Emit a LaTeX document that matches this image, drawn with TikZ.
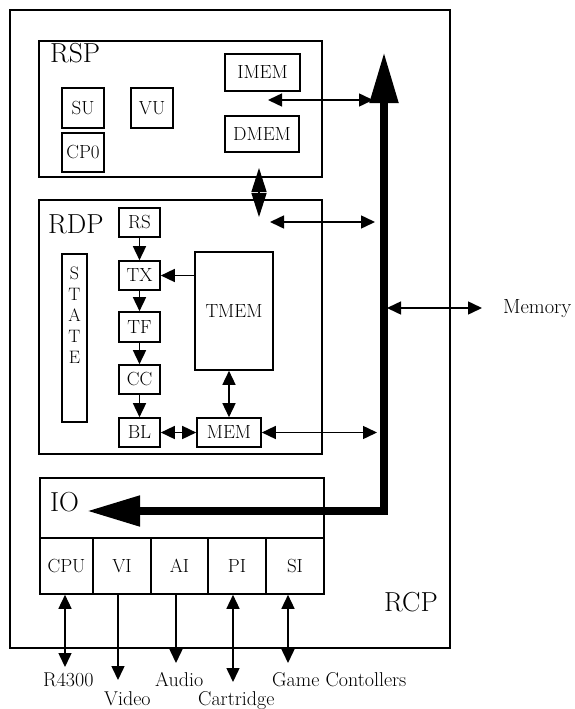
\documentclass[tikz,border=0pt]{standalone}
\usetikzlibrary{arrows.meta}
\tikzset{
  bx/.style={draw, line width=1.6pt, inner sep=0pt, font=\fontsize{19}{22}\selectfont},
  big/.style={font=\fontsize{27.5}{30}\selectfont, inner sep=0pt, anchor=base west},
  lab/.style={font=\fontsize{20}{23}\selectfont, inner sep=0pt, anchor=base west},
  con/.style={line width=1.5pt, -{Triangle[length=14pt,width=13pt]}},
  dcon/.style={line width=1.5pt, {Triangle[length=14pt,width=13pt]}-{Triangle[length=14pt,width=13pt]}},
  busline/.style={line width=8pt, line join=miter, {Triangle[length=53pt,width=29pt]}-{Triangle[length=51pt,width=27pt]}}
}
\begin{document}
\begin{tikzpicture}[x=1pt,y=-1pt]
\path[fill=white, use as bounding box] (0,0) rectangle (574,709);

% outer RCP
\node[draw, line width=1.4pt, minimum width=440pt, minimum height=638pt, inner sep=0pt] (rcp) at (230,329) {};
\node[big] (rcplbl) at (384,611) {RCP};

% RSP
\node[bx, minimum width=283pt, minimum height=136pt] (rsp) at (180.5,109) {};
\node[big] (rsplbl) at (50,63) {RSP};
\node[bx, minimum width=75pt, minimum height=37pt] (imem) at (262.5,72.5) {IMEM};
\node[bx, minimum width=74pt, minimum height=36pt] (dmem) at (262,134) {DMEM};
\node[bx, minimum width=42pt, minimum height=40pt] (su) at (83,108) {SU};
\node[bx, minimum width=42pt, minimum height=40pt] (vu) at (152,108) {VU};
\node[bx, minimum width=42pt, minimum height=39pt] (cpz) at (83,152.5) {CP0};

% RDP
\node[bx, minimum width=283pt, minimum height=254pt] (rdp) at (180.5,327) {};
\node[big] (rdplbl) at (48,233) {RDP};
\node[bx, minimum width=41pt, minimum height=29pt] (rs) at (139.5,222.5) {RS};
\node[bx, minimum width=41pt, minimum height=29pt] (tx) at (139.5,275.5) {TX};
\node[bx, minimum width=41pt, minimum height=30pt] (tf) at (139.5,327) {TF};
\node[bx, minimum width=41pt, minimum height=29pt] (cc) at (139.5,379.5) {CC};
\node[bx, minimum width=41pt, minimum height=29pt] (bl) at (139.5,432.5) {BL};
\node[bx, minimum width=64pt, minimum height=29pt] (mem) at (229,432.5) {MEM};
\node[bx, minimum width=78pt, minimum height=118pt] (tmem) at (234,311) {TMEM};
\node[bx, minimum width=25pt, minimum height=168pt] (state) at (74.5,338) {};
\node[font=\fontsize{18}{21}\selectfont, align=center, inner sep=0pt] (statetxt) at (74.5,315) {S\\T\\A\\T\\E};

% IO
\node[bx, minimum width=284pt, minimum height=116pt] (io) at (182,536) {};
\node[big] (iolbl) at (50,511) {IO};
\node[bx, minimum width=53pt, minimum height=56pt] (cpu) at (66.5,566) {CPU};
\node[bx, minimum width=58pt, minimum height=56pt] (vi) at (122,566) {VI};
\node[bx, minimum width=57pt, minimum height=56pt] (ai) at (179.5,566) {AI};
\node[bx, minimum width=58pt, minimum height=56pt] (pi) at (237,566) {PI};
\node[bx, minimum width=58pt, minimum height=56pt] (si) at (295,566) {SI};

% outside labels
\node[font=\fontsize{20.5}{23}\selectfont, inner sep=0pt, anchor=base west] (memory) at (503,313) {Memory};
\node[lab] (r4300) at (43,686) {R4300};
\node[lab] (video) at (104,705) {Video};
\node[lab] (audio) at (155,686) {Audio};
\node[lab] (cart) at (198,705) {Cartridge};
\node[lab] (game) at (272,686) {Game Contollers};

% bus
\coordinate (busTop) at (384,52);
\coordinate (busCorner) at (384,511);
\coordinate (busEnd) at (87,511);
\draw[busline] (busEnd) -- (busCorner) -- (busTop);

% connectors to the bus
\coordinate (imemL) at (268,100);
\coordinate (imemR) at (373,100);
\draw[dcon] (imemL) -- (imemR);
\coordinate (dA) at (259,168);
\coordinate (dB) at (259,217);
\draw[line width=1.5pt, {Triangle[length=24pt,width=15pt]}-{Triangle[length=24pt,width=15pt]}] (dA) -- (dB);
\coordinate (rdpL) at (270,222);
\coordinate (rdpR) at (375,222);
\draw[dcon] (rdpL) -- (rdpR);
\coordinate (memR) at (377,432.5);
\draw[dcon] (mem.east) -- (memR);
\coordinate (mmL) at (387,308);
\coordinate (mmR) at (482,308);
\draw[dcon] (mmL) -- (mmR);

% RDP internal
\draw[con] (rs) -- (tx);
\draw[con] (tx) -- (tf);
\draw[con] (tf) -- (cc);
\draw[con] (cc) -- (bl);
\draw[con] (tmem.west |- tx) -- (tx.east);
\draw[dcon] (bl) -- (mem);
\draw[dcon] (mem.north) -- (mem.north |- tmem.south);

% IO outputs
\coordinate (a1) at (65,667);
\coordinate (a2) at (118,680);
\coordinate (a3) at (176,663);
\coordinate (a4) at (233,682);
\coordinate (a5) at (288,663);
\draw[dcon] (cpu.south -| a1) -- (a1);
\draw[con] (vi.south -| a2) -- (a2);
\draw[con] (ai.south -| a3) -- (a3);
\draw[dcon] (pi.south -| a4) -- (a4);
\draw[dcon] (si.south -| a5) -- (a5);
\end{tikzpicture}
\end{document}
